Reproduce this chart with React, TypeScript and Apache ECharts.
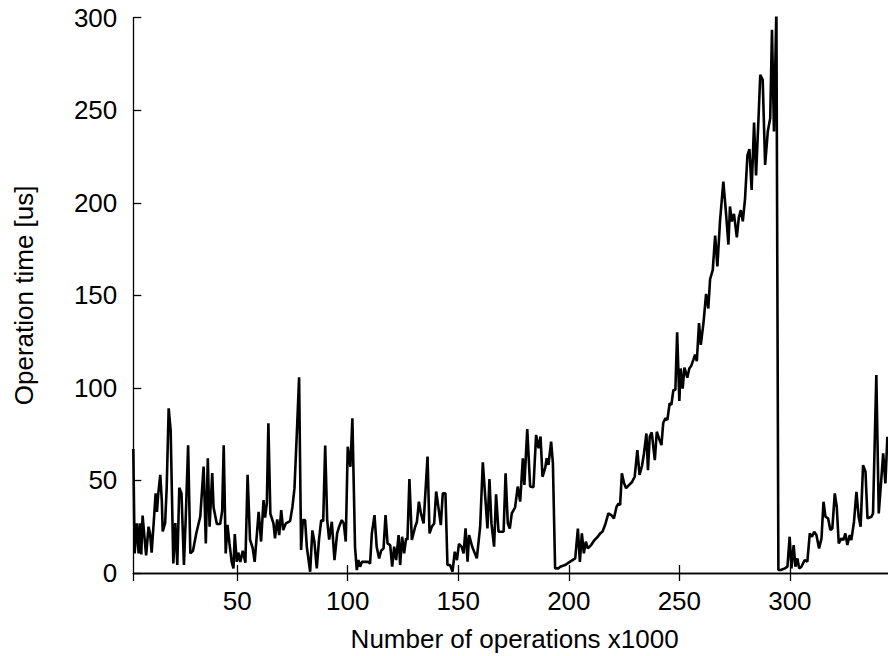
import React, { useEffect, useRef } from "react";
import * as echarts from "echarts";

// x positions (thousands of operations) of the line vertices
const opsX: number[] = [
  3.0, 3.6, 4.6, 5.4, 6.0, 6.6, 7.2, 7.9, 8.8, 9.9, 10.6, 11.3, 12.5, 13.1, 13.7, 14.3, 15.2, 15.9, 16.3, 17.4,
  18.1, 19.0, 19.9, 21.1, 22.0, 22.9, 23.8, 24.8, 25.9, 26.7, 27.8, 28.8, 30.0, 31.5, 33.3, 34.8, 35.4, 35.8, 36.7, 37.5,
  38.7, 39.3, 40.8, 42.3, 43.2, 43.9, 44.8, 45.6, 46.5, 47.5, 48.3, 48.9, 49.8, 50.5, 51.4, 52.5, 53.7, 54.7, 55.8, 57.0,
  57.9, 59.7, 60.8, 61.9, 62.6, 63.4, 64.1, 65.0, 66.4, 67.1, 68.1, 69.0, 69.9, 70.8, 72.0, 73.9, 75.0, 75.9, 77.1, 78.0,
  78.9, 79.7, 80.7, 81.5, 83.0, 84.0, 84.9, 86.0, 87.0, 88.0, 88.9, 89.8, 90.7, 91.6, 92.8, 94.0, 95.2, 96.1, 97.3, 98.2,
  99.1, 100.0, 100.8, 101.2, 102.1, 103.3, 104.1, 104.8, 105.6, 106.4, 107.6, 109.4, 110.1, 110.9, 112.1, 113.1, 114.2, 115.1, 116.2, 117.1,
  118.0, 119.2, 120.1, 121.0, 121.9, 123.0, 123.7, 124.6, 125.5, 126.4, 127.0, 127.9, 129.0, 130.5, 131.3, 132.2, 133.1, 134.3, 136.1, 137.0,
  138.0, 139.1, 140.0, 141.2, 142.1, 143.0, 144.2, 145.1, 146.3, 147.4, 148.4, 149.4, 150.3, 151.5, 152.4, 153.3, 154.2, 154.9, 156.3, 158.4,
  159.9, 161.1, 162.3, 163.2, 164.1, 165.0, 166.2, 167.1, 168.2, 170.5, 171.4, 172.4, 173.3, 174.2, 175.7, 176.9, 178.0, 179.2, 179.9, 181.2,
  182.5, 184.0, 185.2, 186.3, 187.2, 188.1, 189.3, 190.0, 190.8, 192.0, 192.8, 193.8, 195.3, 196.1, 198.3, 200.6, 202.9, 204.1, 205.0, 205.9,
  206.8, 207.7, 208.6, 210.1, 211.6, 213.1, 214.2, 215.2, 216.4, 217.9, 219.2, 220.4, 221.6, 222.5, 223.2, 224.0, 225.0, 225.9, 227.3, 228.5,
  229.8, 231.0, 232.0, 233.1, 234.0, 235.1, 235.8, 236.6, 237.5, 238.9, 239.8, 240.8, 241.9, 242.7, 243.7, 244.6, 245.6, 246.4, 247.3, 248.2,
  249.0, 250.0, 250.6, 251.5, 252.3, 253.6, 254.5, 255.4, 256.4, 257.1, 257.9, 258.9, 259.7, 260.9, 262.1, 263.1, 263.9, 265.1, 266.2, 267.2,
  268.4, 269.9, 271.0, 272.2, 272.9, 273.7, 274.7, 276.0, 276.9, 277.8, 278.7, 279.7, 280.8, 281.7, 282.7, 283.8, 284.7, 285.8, 286.6, 287.7,
  288.8, 290.0, 291.1, 291.9, 292.8, 293.9, 294.8, 295.9, 297.7, 298.9, 299.9, 300.7, 301.7, 302.5, 303.4, 304.2, 305.2, 306.7, 307.9, 309.0,
  310.0, 311.0, 312.0, 313.2, 314.3, 315.2, 316.1, 317.3, 318.3, 319.2, 320.3, 321.2, 322.1, 323.3, 324.2, 325.1, 326.0, 327.1, 327.8, 329.0,
  330.1, 331.1, 332.0, 333.1, 334.2, 335.1, 336.9, 337.6, 339.1, 340.2, 341.1, 342.2, 343.2, 344.1,
];

// operation time [us] at each vertex
const opTimeUs: number[] = [
  67, 10.6, 26.8, 10.6, 26.8, 10, 31, 21.5, 9.5, 25, 21, 11, 32, 43, 33, 43, 53, 39, 22.5, 27,
  46, 89, 77, 5.2, 27, 4.3, 46, 43, 4.3, 29, 69, 10.6, 12, 21.5, 30.5, 57.5, 33.5, 16, 62, 25,
  54, 35.5, 26.5, 26.5, 33.5, 69, 10.6, 26, 16, 6, 2.5, 21, 6, 11, 6, 12, 5.5, 53, 18, 13.5,
  6, 33, 17, 39.4, 30, 37.6, 80.9, 32, 26.8, 18.7, 29, 20.5, 34, 23.2, 26.8, 28, 35.8, 45.7, 79, 105.7,
  12.4, 28.6, 28.6, 14, 0.7, 23, 17, 2.5, 18, 28.6, 28, 68.8, 28.6, 18, 27.7, 7, 21.4, 25, 28.6, 26.8,
  17, 68.2, 61, 57.4, 83.6, 14, 1.6, 7, 3.4, 6, 6, 6, 5, 21.4, 31.3, 14, 7.9, 12, 13.3, 31.3,
  16, 15.1, 3.4, 14.2, 7, 20.5, 4.3, 19.6, 10.6, 18.7, 17.8, 50.8, 17.8, 25, 27.7, 38.5, 32.2, 26.8, 62.9, 21.4,
  25, 26.8, 44, 34, 25.9, 43, 43, 4.3, 4.3, 0.7, 11.5, 7, 15.7, 14.2, 10.6, 24.1, 6.1, 20.5, 14.2, 7.9,
  25, 59.8, 39.4, 24.1, 50.8, 26.8, 14.2, 42.5, 22.3, 22.3, 53.9, 26.8, 24, 32.2, 35.5, 46.7, 38.6, 62, 47.6, 77.7,
  46.7, 46.3, 74.6, 67.4, 73.7, 52, 56.6, 62, 58.4, 71, 59.3, 2.5, 2.5, 3.4, 4.3, 6.1, 7.9, 24, 6, 21.4,
  10.6, 16.9, 13.3, 15.1, 17.8, 19.6, 21.4, 22.3, 25.9, 32.2, 31.3, 29.5, 35.8, 37.6, 36.7, 53.9, 48.5, 45.8, 47.6, 49,
  52, 66.4, 53, 57.8, 64.6, 75.4, 55.6, 73.6, 76, 61, 76.3, 72.7, 69.1, 81, 83.6, 82.7, 91.7, 90.8, 98.9, 98.9,
  130, 93, 110.5, 99.6, 111, 105.5, 110.5, 112, 115.4, 118, 114.4, 135, 123.2, 135, 150.8, 142.9, 158.7, 163.6, 182.3, 165.6,
  190.2, 211.4, 196, 177.4, 198, 190, 194, 181.3, 192, 196, 190, 202, 225.6, 229, 206.9, 243.3, 214.8, 245.3, 269.2, 266.5,
  220.5, 238.5, 245.7, 293.5, 238.5, 305, 1.6, 1.6, 2.5, 3.4, 19.6, 2.5, 15.1, 3.4, 7.9, 2.5, 3.4, 7, 6.1, 21.4,
  19.6, 22.3, 20.5, 13.3, 18.7, 38.5, 30.4, 29.5, 23.2, 24.1, 43, 35.8, 16, 18.7, 17.8, 21.4, 15.1, 20.5, 17.8, 27.7,
  43.9, 30.4, 25, 58.3, 54.7, 29.5, 30.4, 32.2, 107, 32.2, 46.6, 64.6, 48.4, 73.6,
];

const xRange = [3, 348];
const yRange = [0, 300];
const xAxisTitle = "Number of operations x1000";
const yAxisTitle = "Operation time [us]";

export default function App() {
  const ref = useRef<HTMLDivElement>(null);

  useEffect(() => {
    if (!ref.current) return;
    const chart = echarts.init(ref.current, null, { renderer: "svg" });
    const font = "'Liberation Sans', Arial, Helvetica, sans-serif";
    const lineStyle = { color: "#000", width: 1.3 };
    const axisLine = { show: true, lineStyle };
    const axisTick = { show: true, inside: true, length: 8, lineStyle };
    const labelStyle = { color: "#000", fontSize: 26, fontFamily: font };

    const xCommon = {
      type: "value" as const,
      min: xRange[0],
      max: xRange[1],
      splitNumber: 7,
      minInterval: 50,
      maxInterval: 50,
      axisLine,
      axisTick,
      splitLine: { show: false },
    };
    const yCommon = {
      type: "value" as const,
      min: yRange[0],
      max: yRange[1],
      interval: 50,
      axisLine,
      axisTick,
      splitLine: { show: false },
    };

    chart.setOption({
      animation: false,
      backgroundColor: "#fff",
      grid: {
        left: 133.3,
        top: 17.7,
        width: 762.7,
        height: 555.3,
        containLabel: false,
        outerBoundsMode: "none",
      },
      xAxis: [
        {
          ...xCommon,
          position: "bottom",
          axisLabel: { ...labelStyle, margin: 15, showMinLabel: false, showMaxLabel: false },
          name: xAxisTitle,
          nameLocation: "middle",
          nameGap: 53,
          nameTextStyle: labelStyle,
        },
        {
          ...xCommon,
          position: "top",
          axisLabel: { show: false },
        },
      ],
      yAxis: [
        {
          ...yCommon,
          position: "left",
          axisLabel: { ...labelStyle, margin: 16 },
          name: yAxisTitle,
          nameLocation: "middle",
          nameGap: 96,
          nameTextStyle: labelStyle,
        },
        {
          ...yCommon,
          position: "right",
          axisLabel: { show: false },
        },
      ],
      series: [
        {
          type: "line",
          xAxisIndex: 0,
          yAxisIndex: 0,
          data: opsX.map((x, i) => [x, opTimeUs[i]]),
          showSymbol: false,
          symbol: "none",
          clip: true,
          lineStyle: { color: "#000", width: 2.6 },
          itemStyle: { color: "#000" },
        },
      ],
    });
    return () => chart.dispose();
  }, []);

  return (
    <div
      ref={ref}
      style={{ position: "fixed", left: 0, top: 0, width: 888, height: 656 }}
    />
  );
}
